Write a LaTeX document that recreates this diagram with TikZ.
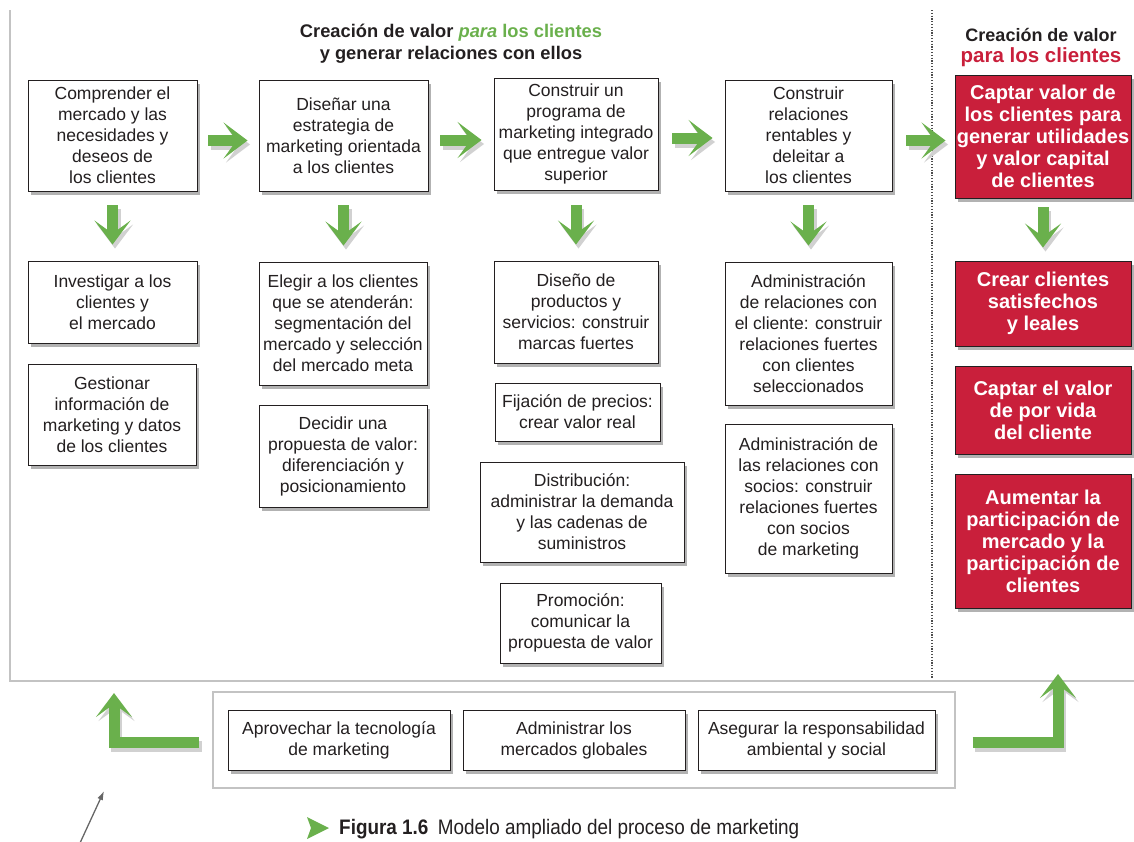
\documentclass[tikz,border=0pt]{standalone}
\usepackage{fontspec}
\setmainfont{Liberation Sans}
\newfontfamily\capfont[FakeStretch=0.9]{Liberation Sans}
\usetikzlibrary{arrows.meta,shadows}
\definecolor{mgreen}{RGB}{106,176,76}
\definecolor{mred}{RGB}{201,31,59}
\definecolor{mtext}{RGB}{35,31,32}
\definecolor{mframe}{RGB}{195,195,195}
\tikzset{
  box/.style={draw=mtext, line width=0.9pt, fill=white, text=mtext, align=center, inner sep=0pt,
    font=\fontsize{17.5}{21}\selectfont,
    drop shadow={shadow xshift=2.5pt, shadow yshift=-4pt, opacity=0.3, fill=black}},
  redbox/.style={box, fill=mred, text=white, font=\bfseries\fontsize{20}{22}\selectfont},
  arrowtipstyle/.style={-{Stealth[length=24pt,width=36pt,inset=13pt]}},
  garrow/.style={draw=mgreen, line width=11pt, arrowtipstyle},
  gshadow/.style={draw=black!18, line width=11pt, arrowtipstyle},
  header/.style={font=\bfseries\fontsize{18.3}{22}\selectfont, text=mtext, align=center},
}
\newcommand\garr[2][]{%
  \begin{scope}[transform canvas={xshift=2.5pt,yshift=-4pt}]\draw[gshadow,#1] #2;\end{scope}
  \draw[garrow,#1] #2;}
\begin{document}
\begin{tikzpicture}[x=1pt,y=-1pt]
\useasboundingbox (0,0) rectangle (1134,841);
% frame
\draw[mframe, line width=1.5pt] (10,10) -- (10,681) -- (1134,681);
\draw[black!70, line width=1.6pt, dash pattern=on 1.2pt off 1.6pt] (932,10) -- (932,679);
% headers
\node[header] (h1) at (451,44) {Creación de valor \textcolor{mgreen}{\textit{para} los clientes}\\y generar relaciones con ellos};
\node[header, font=\bfseries\fontsize{18}{21}\selectfont] (h2) at (1041,48) {Creación de valor\\\textcolor{mred}{\fontsize{20.5}{21}\selectfont para los clientes}};
% row 1
\node[box, minimum width=169pt, minimum height=111pt] (A) at (112.5,135.5) {Comprender el\\mercado y las\\necesidades y\\deseos de\\los clientes};
\node[box, minimum width=169pt, minimum height=111pt] (B) at (343.5,135.5) {Diseñar una\\estrategia de\\marketing orientada\\a los clientes};
\node[box, minimum width=164pt, minimum height=112pt] (C) at (576,134) {Construir un\\programa de\\marketing integrado\\que entregue valor\\superior};
\node[box, minimum width=167pt, minimum height=111pt] (D) at (808.5,135.5) {Construir\\relaciones\\rentables y\\deleitar a\\los clientes};
\node[redbox, minimum width=176pt, minimum height=123pt] (E) at (1043,136.5) {Captar valor de\\los clientes para\\generar utilidades\\y valor capital\\de clientes};
% column A
\node[box, minimum width=169pt, minimum height=82pt] (A2) at (112.5,302) {Investigar a los\\clientes y\\el mercado};
\node[box, minimum width=168pt, minimum height=101pt] (A3) at (112,414.5) {Gestionar\\información de\\marketing y datos\\de los clientes};
% column B
\node[box, minimum width=168pt, minimum height=123pt] (B2) at (343,323.5) {Elegir a los clientes\\que se atenderán:\\segmentación del\\mercado y selección\\del mercado meta};
\node[box, minimum width=168pt, minimum height=102pt] (B3) at (343,456) {Decidir una\\propuesta de valor:\\diferenciación y\\posicionamiento};
% column C
\node[box, minimum width=164pt, minimum height=102pt] (C2) at (576,312) {Diseño de\\productos y\\servicios: construir\\marcas fuertes};
\node[box, minimum width=165pt, minimum height=58pt] (C3) at (577.5,412) {Fijación de precios:\\crear valor real};
\node[box, minimum width=204pt, minimum height=100pt] (C4) at (582,512) {Distribución:\\administrar la demanda\\y las cadenas de\\suministros};
\node[box, minimum width=161pt, minimum height=80pt] (C5) at (580.5,623) {Promoción:\\comunicar la\\propuesta de valor};
% column D
\node[box, minimum width=167pt, minimum height=143pt] (D2) at (808.5,333.5) {Administración\\de relaciones con\\el cliente: construir\\relaciones fuertes\\con clientes\\seleccionados};
\node[box, minimum width=167pt, minimum height=149pt] (D3) at (808.5,498.5) {Administración de\\las relaciones con\\socios: construir\\relaciones fuertes\\con socios\\de marketing};
% column E
\node[redbox, minimum width=176pt, minimum height=85pt] (E2) at (1043,303.5) {Crear clientes\\satisfechos\\y leales};
\node[redbox, minimum width=176pt, minimum height=88pt] (E3) at (1043,410) {Captar el valor\\de por vida\\del cliente};
\node[redbox, minimum width=176pt, minimum height=134pt] (E4) at (1043,541) {Aumentar la\\participación de\\mercado y la\\participación de\\clientes};
% bottom
\node[draw=mframe, line width=1.3pt, fill=white, minimum width=742pt, minimum height=96pt, inner sep=0pt] (bot) at (584,740) {};
\node[box, minimum width=222pt, minimum height=60pt] (F1) at (339,740) {Aprovechar la tecnología\\de marketing};
\node[box, minimum width=222pt, minimum height=60pt] (F2) at (574,740) {Administrar los\\mercados globales};
\node[box, minimum width=237pt, minimum height=60pt] (F3) at (816.5,740) {Asegurar la responsabilidad\\ambiental y social};
% horizontal arrows
\garr[shorten <=11pt, shorten >=11pt]{([yshift=-5pt]A.east) -- ([yshift=-5pt]A.east -| B.west)}
\garr[shorten <=12pt, shorten >=12pt]{([yshift=-4.5pt]B.east) -- ([yshift=-4.5pt]B.east -| C.west)}
\garr[shorten <=14pt, shorten >=12pt]{([yshift=-4pt]C.east) -- ([yshift=-4pt]C.east -| D.west)}
\garr[shorten <=14pt, shorten >=9pt]{([yshift=-5pt]D.east) -- ([yshift=-5pt]D.east -| E.west)}
% down arrows
\garr[shorten <=14pt, shorten >=16pt]{(A.south) -- (A.south |- A2.north)}
\garr[shorten <=14pt, shorten >=16pt]{(B.south) -- (B.south |- B2.north)}
\garr[shorten <=15pt, shorten >=16pt]{(C.south) -- (C.south |- C2.north)}
\garr[shorten <=14pt, shorten >=16pt]{(D.south) -- (D.south |- D2.north)}
\garr[shorten <=9pt, shorten >=13pt]{(E.south) -- (E.south |- E2.north)}
% L arrows
\coordinate (lt) at (114,693);
\coordinate (rt) at (1058,674);
\garr{([xshift=-13pt,yshift=-2.5pt]bot.west) -| (lt)}
\garr{([xshift=17pt,yshift=-2.5pt]bot.east) -| (rt)}
% pointer arrow
\coordinate (g1) at (80,843);
\coordinate (g2) at (104,791);
\draw[black!60, line width=1.3pt, -{Latex[length=9pt,width=6pt]}] (g1) -- (g2);
% caption
\fill[mgreen] (307,817) -- (329,828) -- (307,839) -- (311,828) -- cycle;
\node[anchor=west, inner sep=0pt, text=mtext, font=\capfont\fontsize{21}{24}\selectfont] (cap) at (339,829) {\textbf{Figura 1.6}\hspace{0.45em}Modelo ampliado del proceso de marketing};
\end{tikzpicture}
\end{document}
